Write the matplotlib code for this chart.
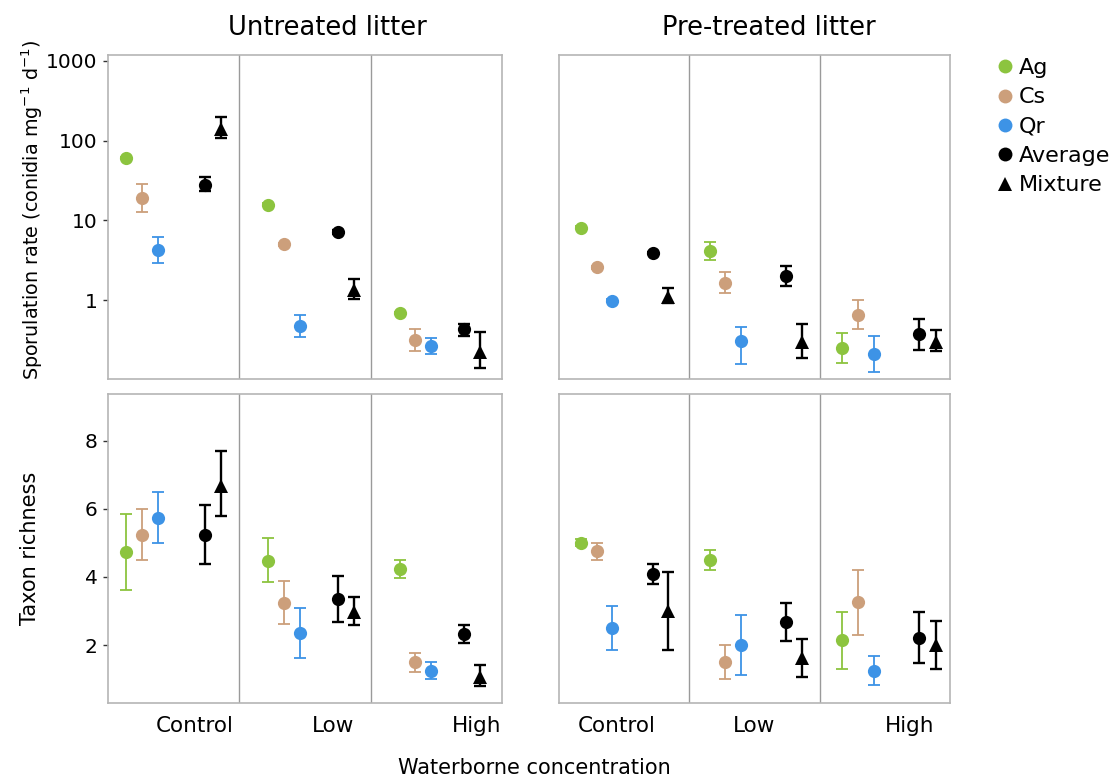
import matplotlib
matplotlib.use("Agg")
import matplotlib.pyplot as plt
import numpy as np
from matplotlib.lines import Line2D

plt.rcParams['font.family'] = ['DejaVu Sans']

groups = ["Control", "Low", "High"]
series = ["Ag", "Cs", "Qr", "Average", "Mixture"]
colors = {"Ag": "#8cc43f", "Cs": "#cc9f7b", "Qr": "#3d93e6", "Average": "#000000", "Mixture": "#000000"}
markers = {"Ag": "o", "Cs": "o", "Qr": "o", "Average": "o", "Mixture": "^"}

# Sporulation rate, untreated litter: rows = groups, cols = series
spo_unt = [[60.6, 19.0, 4.22, 27.9, 140.0],
           [15.7, 5.0, 0.473, 7.14, 1.36],
           [0.695, 0.316, 0.266, 0.43, 0.226]]
spo_unt_lo = [[58.0, 12.7, 2.96, 23.3, 108.0],
              [15.0, 4.8, 0.345, 6.7, 1.04],
              [0.67, 0.233, 0.209, 0.36, 0.143]]
spo_unt_hi = [[63.0, 28.2, 6.2, 34.9, 200.0],
              [16.4, 5.2, 0.65, 7.6, 1.83],
              [0.72, 0.434, 0.338, 0.51, 0.394]]

# Sporulation rate, pre-treated litter
spo_pre = [[8.1, 2.59, 0.99, 3.9, 1.1],
           [4.1, 1.65, 0.307, 2.0, 0.30],
           [0.249, 0.65, 0.214, 0.372, 0.30]]
spo_pre_lo = [[7.8, 2.48, 0.94, 3.75, 0.91],
              [3.16, 1.22, 0.158, 1.51, 0.187],
              [0.162, 0.43, 0.127, 0.24, 0.23]]
spo_pre_hi = [[8.4, 2.7, 1.04, 4.05, 1.43],
              [5.3, 2.28, 0.464, 2.68, 0.50],
              [0.39, 1.01, 0.36, 0.58, 0.42]]

# Taxon richness, untreated litter
tax_unt = [[4.73, 5.23, 5.74, 5.23, 6.67],
           [4.48, 3.23, 2.35, 3.36, 2.96],
           [4.24, 1.49, 1.25, 2.32, 1.05]]
tax_unt_lo = [[3.63, 4.49, 4.99, 4.37, 5.79],
              [3.85, 2.62, 1.62, 2.68, 2.58],
              [3.98, 1.21, 1.00, 2.06, 0.81]]
tax_unt_hi = [[5.85, 6.00, 6.49, 6.10, 7.69],
              [5.14, 3.87, 3.10, 4.03, 3.41],
              [4.49, 1.78, 1.49, 2.59, 1.43]]

# Taxon richness, pre-treated litter
tax_pre = [[5.01, 4.75, 2.50, 4.09, 2.99],
           [4.49, 1.51, 2.01, 2.67, 1.62],
           [2.14, 3.26, 1.25, 2.21, 1.99]]
tax_pre_lo = [[4.90, 4.49, 1.86, 3.79, 1.85],
              [4.21, 1.01, 1.12, 2.11, 1.07],
              [1.31, 2.31, 0.83, 1.47, 1.30]]
tax_pre_hi = [[5.10, 5.00, 3.15, 4.38, 4.15],
              [4.79, 2.00, 2.89, 3.23, 2.19],
              [2.96, 4.20, 1.69, 2.96, 2.72]]

# horizontal offsets of the five series inside each group (layout)
offsets_left = [[-0.36, -0.24, -0.12, 0.24, 0.36],
                [-0.28, -0.16, -0.04, 0.25, 0.37],
                [-0.28, -0.16, -0.04, 0.21, 0.33]]
offsets_right = [[-0.33, -0.21, -0.09, 0.22, 0.34],
                 [-0.345, -0.225, -0.105, 0.245, 0.365],
                 [-0.325, -0.205, -0.085, 0.265, 0.39]]
# x-label positions (layout)
label_pos_left = [0.16, 1.21, 2.31]
label_pos_right = [-0.06, 1.0, 2.19]

W, H = 1113, 781
fig = plt.figure(figsize=(W / 100, H / 100), dpi=100)

def ax_rect(x0, y0, x1, y1):
    return [x0 / W, 1 - y1 / H, (x1 - x0) / W, (y1 - y0) / H]

axes = {
    (0, 0): fig.add_axes(ax_rect(108, 55, 502, 379)),
    (0, 1): fig.add_axes(ax_rect(559, 55, 950, 379)),
    (1, 0): fig.add_axes(ax_rect(108, 394, 502, 703)),
    (1, 1): fig.add_axes(ax_rect(559, 394, 950, 703)),
}

panel_data = {
    (0, 0): (spo_unt, spo_unt_lo, spo_unt_hi, offsets_left),
    (0, 1): (spo_pre, spo_pre_lo, spo_pre_hi, offsets_right),
    (1, 0): (tax_unt, tax_unt_lo, tax_unt_hi, offsets_left),
    (1, 1): (tax_pre, tax_pre_lo, tax_pre_hi, offsets_right),
}

spine_col = "#b5b5b5"
div_col = "#9a9a9a"

for (r, c), ax in axes.items():
    vals, lo, hi, offs = panel_data[(r, c)]
    for gi in range(len(groups)):
        for si, s in enumerate(series):
            x = gi + offs[gi][si]
            v = vals[gi][si]
            yerr = [[v - lo[gi][si]], [hi[gi][si] - v]]
            black = s in ("Average", "Mixture")
            ax.errorbar([x], [v], yerr=yerr, fmt='none', ecolor=colors[s],
                        elinewidth=1.7 if black else 1.3, capsize=4.5,
                        capthick=1.7 if black else 1.3, zorder=2)
            ax.plot([x], [v], marker=markers[s], color=colors[s], linestyle='none',
                    markersize=10.5 if s == "Mixture" else 9.5,
                    markeredgewidth=0, zorder=3)
    for b in [0.5, 1.5]:
        ax.axvline(b, color=div_col, lw=1.0, zorder=1)
    ax.set_xlim(-0.5, 2.5)
    for sp in ax.spines.values():
        sp.set_color(spine_col)
        sp.set_linewidth(1.2)
    if r == 1:
        ax.set_xticks(label_pos_left if c == 0 else label_pos_right)
        ax.set_xticklabels(groups, fontsize=15.5)
    else:
        ax.set_xticks([])
    ax.tick_params(axis='x', length=0, pad=9)
    if r == 0:
        ax.set_yscale('log')
        ax.set_ylim(0.103, 1180)
        ax.set_yticks([1, 10, 100, 1000])
        ax.set_yticklabels(["1", "10", "100", "1000"])
        ax.yaxis.set_minor_locator(matplotlib.ticker.NullLocator())
    else:
        ax.set_ylim(0.3, 9.37)
        ax.set_yticks([2, 4, 6, 8])
    if c == 0:
        ax.tick_params(axis='y', labelsize=14.5, length=3.5, width=1, color="#333333", pad=4)
    else:
        ax.tick_params(axis='y', left=False, labelleft=False)

fig.text(327 / W, 1 - 28 / H, "Untreated litter", ha='center', va='center', fontsize=18.5)
fig.text(769 / W, 1 - 28 / H, "Pre-treated litter", ha='center', va='center', fontsize=18.5)
fig.text(32 / W, 1 - 210 / H, "Sporulation rate (conidia mg$^{\\mathregular{-1}}$ d$^{\\mathregular{-1}}$)",
         rotation=90, ha='center', va='center', fontsize=13.8)
fig.text(30 / W, 1 - 548 / H, "Taxon richness", rotation=90, ha='center', va='center', fontsize=15)
fig.text(534 / W, 1 - 768 / H, "Waterborne concentration", ha='center', va='center', fontsize=15)

handles = [Line2D([], [], marker=markers[s], color=colors[s], linestyle='none',
                  markersize=10 if s != "Mixture" else 10.5, markeredgewidth=0) for s in series]
fig.legend(handles, series, loc='upper left', bbox_to_anchor=(994 / W, 1 - 58 / H),
           frameon=False, fontsize=16, handletextpad=0.1, labelspacing=0.42,
           handlelength=1.0, borderaxespad=0, borderpad=0)

fig.savefig("out.png", dpi=100)
